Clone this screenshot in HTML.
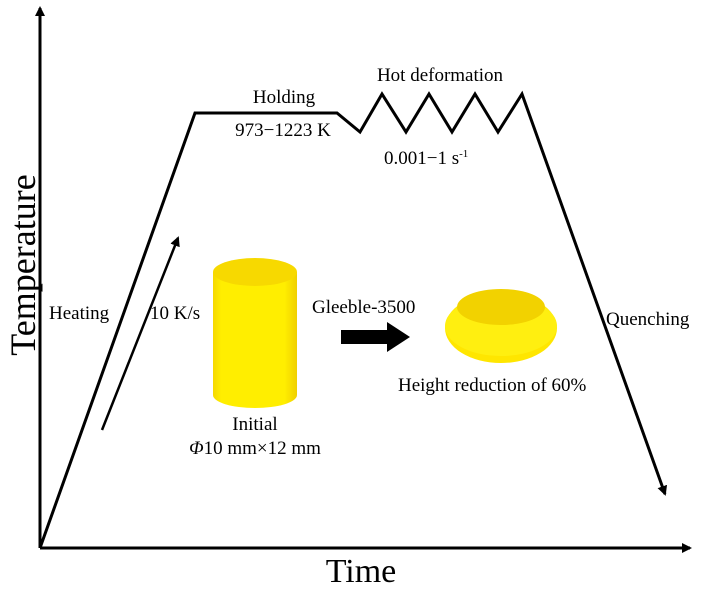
<!DOCTYPE html>
<html><head><style>body{margin:0;background:#fff}svg{display:block}</style></head><body>
<svg width="712" height="591" xmlns="http://www.w3.org/2000/svg" font-family="Liberation Serif, serif">
<defs>
<marker id="a" markerWidth="10" markerHeight="10" refX="8" refY="5" orient="auto" markerUnits="userSpaceOnUse"><path d="M0,0 L10,5 L0,10 z" fill="#000"/></marker>
<linearGradient id="cyl" x1="0" x2="1"><stop offset="0" stop-color="#f5d800"/><stop offset="0.1" stop-color="#ffee00"/><stop offset="0.85" stop-color="#ffee00"/><stop offset="1" stop-color="#f0d000"/></linearGradient>
</defs>
<g stroke="#000" stroke-width="3" fill="none">
<line x1="40" y1="548" x2="40" y2="8" marker-end="url(#a)"/>
<line x1="40" y1="548" x2="690" y2="548" marker-end="url(#a)"/>
<polyline points="40,548 195,113 337,113 360,132 382,94 406,132 429,94 452,132 475,94 498,132 522,94 665,494" stroke-linejoin="miter" marker-end="url(#a)"/>
<line x1="102" y1="430" x2="178" y2="238" stroke-width="2.5" marker-end="url(#a)"/>
</g>
<rect x="213" y="272" width="84" height="123" fill="url(#cyl)"/>
<ellipse cx="255" cy="395" rx="42" ry="13" fill="url(#cyl)"/>
<ellipse cx="255" cy="272" rx="42" ry="14" fill="#f7d900"/>
<ellipse cx="501" cy="328" rx="56" ry="35" fill="#ffe600"/>
<ellipse cx="501" cy="326" rx="56" ry="30" fill="#ffef10"/>
<ellipse cx="501" cy="307" rx="44" ry="18" fill="#f2d200"/>
<polygon points="341,330 387,330 387,322 410,337 387,352 387,344 341,344" fill="#000"/>
<g font-size="19" fill="#000">
<text x="284" y="103" text-anchor="middle">Holding</text>
<text x="283" y="136" text-anchor="middle">973−1223 K</text>
<text x="440" y="81" text-anchor="middle">Hot deformation</text>
<text x="384" y="164">0.001−1 s<tspan font-size="11" dy="-7">-1</tspan></text>
<text x="49" y="319">Heating</text>
<text x="150" y="319">10 K/s</text>
<text x="312" y="313">Gleeble-3500</text>
<text x="606" y="325">Quenching</text>
<text x="398" y="391">Height reduction of 60%</text>
<text x="255" y="430" text-anchor="middle">Initial</text>
<text x="255" y="454" text-anchor="middle"><tspan font-style="italic">Φ</tspan>10 mm×12 mm</text>
</g>
<text x="361" y="582" font-size="34" text-anchor="middle">Time</text>
<text transform="translate(35,265) rotate(-90)" font-size="36" text-anchor="middle">Temperature</text>
</svg>
</body></html>
